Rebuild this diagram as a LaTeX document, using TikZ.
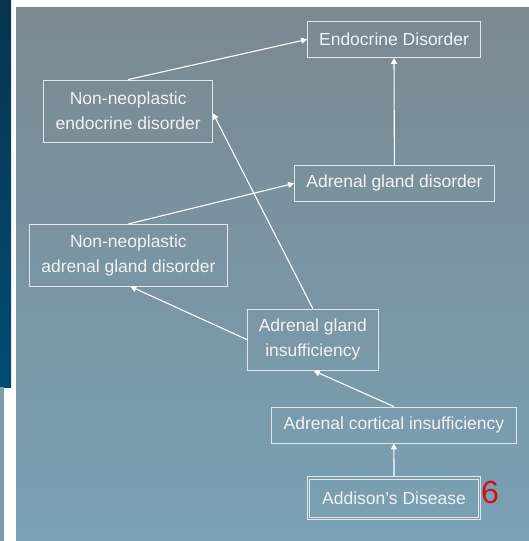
\documentclass[tikz,border=0pt]{standalone}
\usepackage{fontspec}
\setmainfont{Liberation Sans}
\usetikzlibrary{arrows.meta}
\definecolor{paneltop}{RGB}{122,137,146}
\definecolor{panelbot}{RGB}{122,161,181}
\definecolor{darktop}{RGB}{8,52,80}
\definecolor{darkbot}{RGB}{0,76,116}
\definecolor{stripgray}{RGB}{126,156,176}
\definecolor{boxline}{RGB}{225,232,236}
\definecolor{txt}{RGB}{240,243,245}
\definecolor{numred}{RGB}{208,16,26}
\tikzset{
  box/.style={draw=boxline, line width=0.9pt, inner sep=0pt, align=center,
    text=txt, font=\fontsize{17.5}{25}\selectfont},
  link/.style={draw=white, line width=1.1pt, -{Triangle[length=6pt,width=6pt]}}
}
\begin{document}
\begin{tikzpicture}[x=1pt,y=-1pt]
\useasboundingbox (0,0) rectangle (529,541);
\fill[white] (0,0) rectangle (529,541);
\shade[top color=darktop, bottom color=darkbot] (0,0) rectangle (11,387);
\fill[stripgray] (0,387) rectangle (4,541);
\shade[top color=paneltop, bottom color=panelbot] (16,7) rectangle (529,541);

\node[box, minimum width=172.7pt, minimum height=36pt] (ed) at (394,39.4) {Endocrine Disorder};
\node[box, minimum width=168.6pt, minimum height=62.4pt] (nned) at (128.2,111.2) {Non-neoplastic\\endocrine disorder};
\node[box, minimum width=199.8pt, minimum height=36pt] (agd) at (394.4,183.4) {Adrenal gland disorder};
\node[box, minimum width=197.3pt, minimum height=61.6pt] (nnagd) at (128.4,255.2) {Non-neoplastic\\adrenal gland disorder};
\node[box, minimum width=130.3pt, minimum height=61.4pt] (agi) at (312.8,339.7) {Adrenal gland\\insufficiency};
\node[box, minimum width=245.2pt, minimum height=36pt] (aci) at (393.9,425) {Adrenal cortical insufficiency};
\node[box, minimum width=173.8pt, minimum height=42.9pt] (ad) at (394,498.2) {Addison’s Disease};
\draw[boxline, line width=0.9pt] ([xshift=3pt,yshift=-3pt]ad.north west) rectangle ([xshift=-3pt,yshift=3pt]ad.south east);
\node[text=numred, font=\fontsize{32}{32}\selectfont, inner sep=0pt] (six) at (490,492) {6};

\draw[link] (nned.north) -- (ed.west);
\draw[link] (agd.north) -- (ed.south);
\draw[link] (nnagd.north) -- (agd.west);
\draw[link] (agi.north) -- ([yshift=-2pt]nned.east);
\draw[link] (agi.west) -- ([xshift=2pt]nnagd.south);
\draw[link] (aci.north) -- ([xshift=1pt]agi.south);
\draw[link] (ad.north) -- (aci.south);
\end{tikzpicture}
\end{document}
